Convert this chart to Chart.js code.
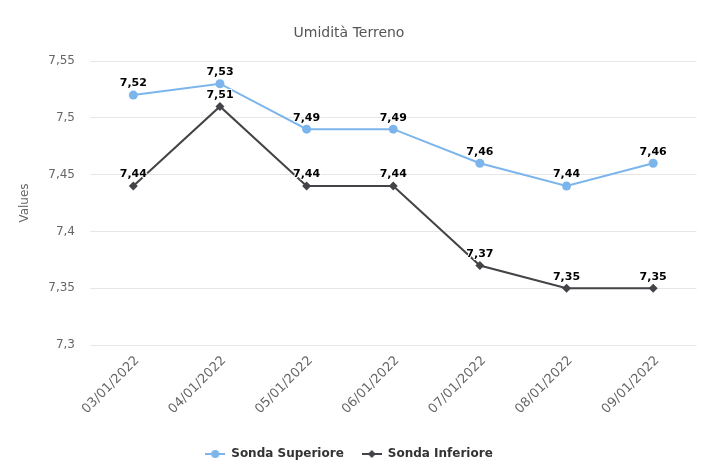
<!DOCTYPE html>
<html>
<head>
<meta charset="utf-8">
<script src="https://cdn.jsdelivr.net/npm/chart.js@4"></script>
<style>
  html, body { margin: 0; padding: 0; background: #fff; }
  #wrap { width: 701px; height: 474px; }
</style>
</head>
<body>
<div id="wrap"><canvas id="chart" width="701" height="474"></canvas></div>
<script>
const dates = ['03/01/2022', '04/01/2022', '05/01/2022', '06/01/2022', '07/01/2022', '08/01/2022', '09/01/2022'];
const sondaSuperiore = [7.52, 7.53, 7.49, 7.49, 7.46, 7.44, 7.46];
const sondaInferiore = [7.44, 7.51, 7.44, 7.44, 7.37, 7.35, 7.35];
const yTicks = [7.3, 7.35, 7.4, 7.45, 7.5, 7.55];

const FONT = '"DejaVu Sans", Verdana, sans-serif';

// numeri con la virgola
function fmt(v) {
  return String(parseFloat(v.toFixed(2))).replace('.', ',');
}

// icona della legenda: linea + marker
function legendIcon(color, shape) {
  const c = document.createElement('canvas');
  c.width = 20;
  c.height = 10;
  const g = c.getContext('2d');
  g.strokeStyle = color;
  g.fillStyle = color;
  g.lineWidth = 2;
  g.beginPath();
  g.moveTo(0, 5);
  g.lineTo(20, 5);
  g.stroke();
  g.beginPath();
  if (shape === 'circle') {
    g.arc(10, 5, 4, 0, Math.PI * 2);
  } else {
    g.moveTo(10, 1);
    g.lineTo(14, 5);
    g.lineTo(10, 9);
    g.lineTo(6, 5);
    g.closePath();
  }
  g.fill();
  return c;
}

const valueLabels = {
  id: 'valueLabels',
  afterDatasetsDraw(chart) {
    const ctx = chart.ctx;
    ctx.save();
    ctx.font = 'bold 11px ' + FONT;
    ctx.textAlign = 'center';
    ctx.textBaseline = 'bottom';
    ctx.lineJoin = 'round';
    chart.data.datasets.forEach((ds, i) => {
      chart.getDatasetMeta(i).data.forEach((pt, j) => {
        const txt = fmt(ds.data[j]);
        ctx.strokeStyle = '#fff';
        ctx.lineWidth = 2;
        ctx.strokeText(txt, pt.x, pt.y - 6);
        ctx.fillStyle = '#000';
        ctx.fillText(txt, pt.x, pt.y - 6);
      });
    });
    ctx.restore();
  }
};

new Chart(document.getElementById('chart'), {
  type: 'line',
  data: {
    labels: dates,
    datasets: [
      {
        label: 'Sonda Superiore',
        data: sondaSuperiore,
        borderColor: '#7cb5ec',
        backgroundColor: '#7cb5ec',
        borderWidth: 2,
        pointStyle: 'circle',
        pointRadius: 4.5,
        pointBorderWidth: 0,
        tension: 0
      },
      {
        label: 'Sonda Inferiore',
        data: sondaInferiore,
        borderColor: '#434348',
        backgroundColor: '#434348',
        borderWidth: 2,
        pointStyle: 'rectRot',
        pointRadius: 4.5,
        pointBorderWidth: 0,
        tension: 0
      }
    ]
  },
  options: {
    responsive: false,
    animation: false,
    layout: { padding: { left: 0, right: 3, top: 0, bottom: 4 } },
    plugins: {
      title: {
        display: true,
        text: 'Umidità Terreno',
        color: '#555555',
        font: { family: FONT, size: 14, weight: 'normal' },
        padding: { top: 25, bottom: 19.2 }
      },
      legend: {
        position: 'bottom',
        labels: {
          usePointStyle: true,
          pointStyleWidth: 20,
          padding: 18,
          color: '#333333',
          font: { family: FONT, size: 12, weight: 'bold' },
          generateLabels(chart) {
            return chart.data.datasets.map((ds, i) => ({
              text: ds.label,
              fontColor: '#333333',
              pointStyle: legendIcon(ds.borderColor, i === 0 ? 'circle' : 'diamond'),
              hidden: false,
              datasetIndex: i,
              lineWidth: 0
            }));
          }
        }
      },
      tooltip: { enabled: false }
    },
    scales: {
      x: {
        offset: true,
        grid: { display: false },
        border: { display: false },
        ticks: {
          color: '#666666',
          font: { family: FONT, size: 13 },
          minRotation: 45,
          maxRotation: 45,
          padding: 0,
          labelOffset: 4
        },
        afterFit(scale) { scale.height = 85; }
      },
      y: {
        min: 7.3,
        max: 7.55,
        afterBuildTicks(scale) { scale.ticks = yTicks.map(v => ({ value: v })); },
        grid: { color: '#e6e6e6', drawTicks: false },
        border: { display: false },
        ticks: {
          color: '#666666',
          font: { family: FONT, size: 12 },
          padding: 15,
          callback: v => fmt(v)
        },
        title: {
          display: true,
          text: 'Values',
          color: '#666666',
          font: { family: FONT, size: 12 },
          padding: { top: 18, bottom: 0 }
        },
        afterFit(scale) { scale.width = 90; }
      }
    }
  },
  plugins: [valueLabels]
});
</script>
</body>
</html>
